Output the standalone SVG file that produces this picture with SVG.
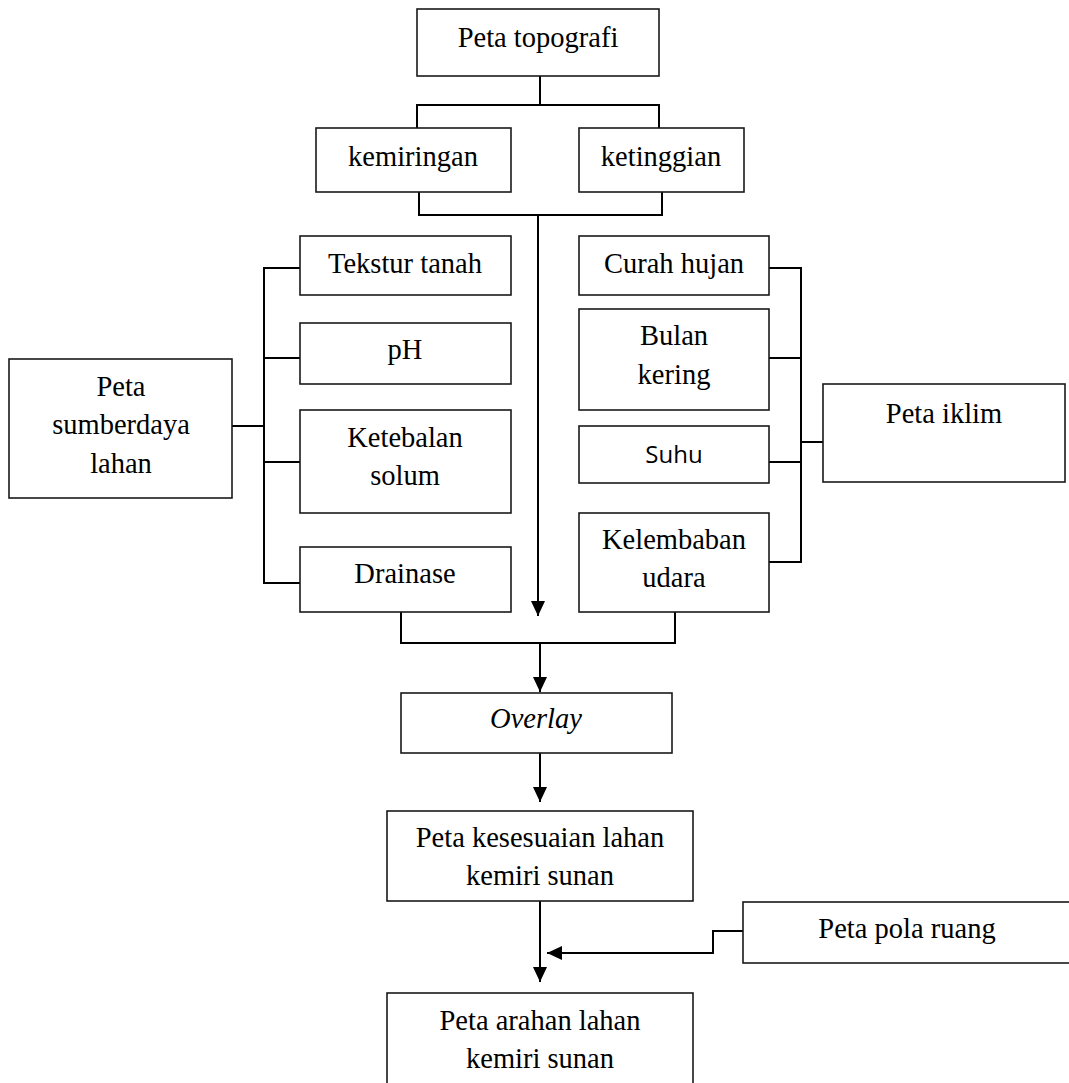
<svg xmlns="http://www.w3.org/2000/svg" width="1069" height="1083" viewBox="0 0 1069 1083">
<defs>
<style>
.box{fill:#fff;stroke:#1a1a1a;stroke-width:1.6}
.t{font-family:"Liberation Serif","Times New Roman",serif;font-size:28.5px;fill:#000;text-anchor:middle}
.s{font-family:"Open Sans","Noto Sans",sans-serif;font-size:24px;fill:#000;text-anchor:middle}
.c{fill:none;stroke:#000;stroke-width:2}
</style>
<marker id="ah" viewBox="0 0 15 14" refX="15" refY="7" markerWidth="15" markerHeight="14" markerUnits="userSpaceOnUse" orient="auto">
<path d="M0,0 L15,7 L0,14 z" fill="#000"/>
</marker>
</defs>
<rect width="1069" height="1083" fill="#fff"/>
<g id="connectors">
<path class="c" d="M540,76 V105 M417,128 V105 H659 V128"/>
<path class="c" d="M419,192 V215 H662 V192"/>
<path class="c" d="M538,215 V616" marker-end="url(#ah)"/>
<path class="c" d="M300,268 H264 V583 H300 M264,358 H300 M264,462 H300 M232,426 H264"/>
<path class="c" d="M769,268 H801 V562 H769 M769,358 H801 M769,462 H801 M801,442 H823"/>
<path class="c" d="M401,612 V643 H675 V612"/>
<path class="c" d="M540,643 V692" marker-end="url(#ah)"/>
<path class="c" d="M540,753 V802" marker-end="url(#ah)"/>
<path class="c" d="M540,901 V982" marker-end="url(#ah)"/>
<path class="c" d="M743,931 H713 V953 H547" marker-end="url(#ah)"/>
</g>
<g id="peta-topografi"><rect class="box" x="417" y="9" width="242" height="67"/><text class="t" x="538" y="47">Peta topografi</text></g>
<g id="kemiringan"><rect class="box" x="316" y="128" width="195" height="64"/><text class="t" x="413" y="166">kemiringan</text></g>
<g id="ketinggian"><rect class="box" x="579" y="128" width="165" height="64"/><text class="t" x="661" y="166">ketinggian</text></g>
<g id="tekstur-tanah"><rect class="box" x="300" y="236" width="211" height="59"/><text class="t" x="405" y="273">Tekstur tanah</text></g>
<g id="ph"><rect class="box" x="300" y="323" width="211" height="61"/><text class="t" x="405" y="359">pH</text></g>
<g id="ketebalan-solum"><rect class="box" x="300" y="410" width="211" height="103"/><text class="t" x="405" y="447">Ketebalan</text><text class="t" x="405" y="485">solum</text></g>
<g id="drainase"><rect class="box" x="300" y="547" width="211" height="65"/><text class="t" x="405" y="583">Drainase</text></g>
<g id="peta-sumberdaya-lahan"><rect class="box" x="9" y="359" width="223" height="139"/><text class="t" x="121" y="396">Peta</text><text class="t" x="121" y="434">sumberdaya</text><text class="t" x="121" y="473">lahan</text></g>
<g id="curah-hujan"><rect class="box" x="579" y="236" width="190" height="59"/><text class="t" x="674" y="273">Curah hujan</text></g>
<g id="bulan-kering"><rect class="box" x="579" y="309" width="190" height="101"/><text class="t" x="674" y="345">Bulan</text><text class="t" x="674" y="384">kering</text></g>
<g id="suhu"><rect class="box" x="579" y="426" width="190" height="57"/><text class="s" x="674" y="463">Suhu</text></g>
<g id="kelembaban-udara"><rect class="box" x="579" y="513" width="190" height="99"/><text class="t" x="674" y="549">Kelembaban</text><text class="t" x="674" y="587">udara</text></g>
<g id="peta-iklim"><rect class="box" x="823" y="384" width="242" height="98"/><text class="t" x="944" y="423">Peta iklim</text></g>
<g id="overlay"><rect class="box" x="401" y="693" width="271" height="60"/><text class="t" x="536" y="728" font-style="italic">Overlay</text></g>
<g id="peta-kesesuaian"><rect class="box" x="387" y="811" width="306" height="90"/><text class="t" x="540" y="847">Peta kesesuaian lahan</text><text class="t" x="540" y="885">kemiri sunan</text></g>
<g id="peta-pola-ruang"><rect class="box" x="743" y="902" width="330" height="61"/><text class="t" x="907" y="938">Peta pola ruang</text></g>
<g id="peta-arahan"><rect class="box" x="387" y="993" width="306" height="100"/><text class="t" x="540" y="1030">Peta arahan lahan</text><text class="t" x="540" y="1068">kemiri sunan</text></g>
</svg>
